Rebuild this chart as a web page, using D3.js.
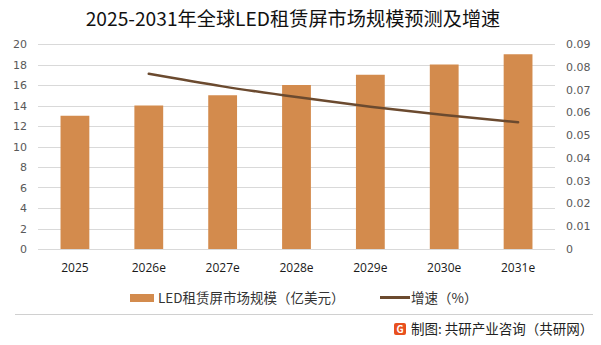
<!DOCTYPE html>
<meta charset="utf-8">
<style>
body { margin: 0; background: #fff; }
text { font-family: "Noto Sans CJK SC", "Noto Sans", sans-serif; }
.grid line { stroke: #d9d9d9; stroke-width: 1px; }
.tick text { font-family: "DejaVu Sans", sans-serif; font-size: 11px; fill: #595959; }
.xlab { font-family: "Open Sans", "DejaVu Sans", sans-serif; font-size: 12px; fill: #1a1a1a; }
</style>
<svg width="601" height="345"></svg>
<script src="https://d3js.org/d3.v7.min.js"></script>
<script>

var years = ["2025", "2026e", "2027e", "2028e", "2029e", "2030e", "2031e"];
var marketSize = [13, 14, 15, 16, 17, 18, 19];
var growthYears = ["2026e", "2027e", "2028e", "2029e", "2030e", "2031e"];
var growthRate = [0.0769, 0.0714, 0.0667, 0.0625, 0.0588, 0.0556];
var leftTicks = [0, 2, 4, 6, 8, 10, 12, 14, 16, 18, 20];
var rightTicks = [0, 0.01, 0.02, 0.03, 0.04, 0.05, 0.06, 0.07, 0.08, 0.09];

var svg = d3.select("svg");
var plotLeft = 38, plotRight = 555, plotTop = 44, plotBottom = 249;

var x = d3.scaleBand().domain(years).range([plotLeft, plotRight]).paddingInner(0.61).paddingOuter(0.305);
var yL = d3.scaleLinear().domain([0, 20]).range([plotBottom, plotTop]);
var yR = d3.scaleLinear().domain([0, 0.09]).range([plotBottom, plotTop]);

// title
svg.append("text")
    .attr("x", 293).attr("y", 26)
    .attr("text-anchor", "middle")
    .style("font-size", "19.2px").style("fill", "#111")
    .text("2025-2031年全球LED租赁屏市场规模预测及增速");

// grid
svg.append("g").attr("class", "grid")
  .selectAll("line").data(leftTicks).enter().append("line")
    .attr("x1", plotLeft).attr("x2", plotRight)
    .attr("y1", function(d) { return Math.round(yL(d)) + 0.5; })
    .attr("y2", function(d) { return Math.round(yL(d)) + 0.5; });

// axes
svg.append("g")
    .attr("transform", "translate(" + (plotLeft - 8) + ",0)")
    .call(d3.axisLeft(yL).tickValues(leftTicks).tickSize(0).tickPadding(3))
    .call(function(g) { g.select(".domain").remove(); });

svg.append("g")
    .attr("transform", "translate(" + (plotRight + 8) + ",0)")
    .call(d3.axisRight(yR).tickValues(rightTicks).tickSize(0).tickPadding(3)
      .tickFormat(function(d) { return d === 0 ? "0" : d3.format(".2f")(d); }))
    .call(function(g) { g.select(".domain").remove(); });

// bars
svg.append("g").selectAll("rect").data(years).enter().append("rect")
    .attr("x", function(d) { return x(d); })
    .attr("width", x.bandwidth())
    .attr("y", function(d, i) { return yL(marketSize[i]); })
    .attr("height", function(d, i) { return plotBottom - yL(marketSize[i]); })
    .attr("fill", "#d38b4d");

// x labels
svg.append("g").selectAll("text").data(years).enter().append("text")
    .attr("class", "xlab")
    .attr("x", function(d) { return x(d) + x.bandwidth() / 2; })
    .attr("y", 272)
    .attr("text-anchor", "middle")
    .text(function(d) { return d; });

// growth line
var line = d3.line()
    .x(function(d, i) { return x(growthYears[i]) + x.bandwidth() / 2; })
    .y(function(d) { return yR(d); })
    .curve(d3.curveMonotoneX);

svg.append("path")
    .datum(growthRate)
    .attr("d", line)
    .attr("fill", "none")
    .attr("stroke", "#6b4a2f")
    .attr("stroke-width", 2.5)
    .attr("stroke-linecap", "round");

// legend
var lg = svg.append("g");
lg.append("rect").attr("x", 130).attr("y", 294).attr("width", 24).attr("height", 8).attr("fill", "#d38b4d");
lg.append("text").attr("x", 158).attr("y", 303).style("font-size", "13.5px").style("fill", "#333")
    .text("LED租赁屏市场规模（亿美元）");
lg.append("line").attr("x1", 380).attr("x2", 410).attr("y1", 297.5).attr("y2", 297.5)
    .attr("stroke", "#6b4a2f").attr("stroke-width", 3);
lg.append("text").attr("x", 411).attr("y", 303).style("font-size", "13.5px").style("fill", "#333")
    .text("增速（%）");

// separator
svg.append("line").attr("x1", 15).attr("x2", 593).attr("y1", 314.5).attr("y2", 314.5)
    .attr("stroke", "#d0d0d0").attr("stroke-width", 1);

// footer
var ft = svg.append("g");
ft.append("rect").attr("x", 394).attr("y", 323).attr("width", 12).attr("height", 12).attr("rx", 2).attr("fill", "#e8501e");
ft.append("text").attr("x", 400).attr("y", 333).attr("text-anchor", "middle")
    .style("font-size", "10px").style("font-weight", "bold").style("fill", "#fff").text("G");
ft.append("text").attr("x", 411).attr("y", 334).style("font-size", "13.5px").style("fill", "#222")
    .text("制图: 共研产业咨询（共研网）");

</script>
